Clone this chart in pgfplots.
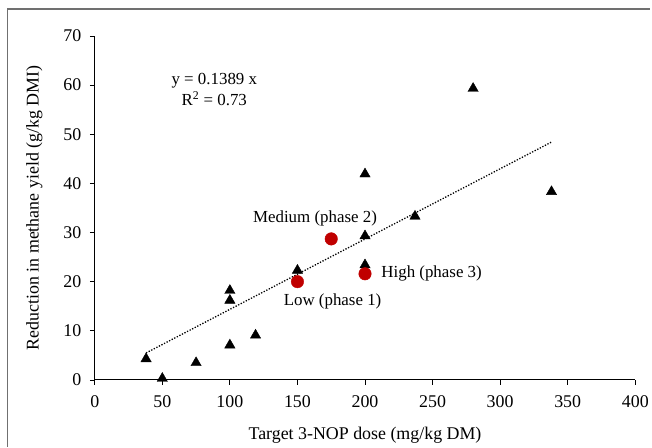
\documentclass[border=0pt]{standalone}
\usepackage{pgfplots}
\pgfplotsset{compat=1.18}
\usepackage{fontspec}
\setmainfont{Liberation Serif}
\definecolor{ptred}{HTML}{C00000}
\definecolor{framegray}{HTML}{707070}
\begin{document}
\begin{tikzpicture}[x=1bp,y=1bp]
\begin{axis}[
  at={(0,0)}, anchor=south west,
  scale only axis, width=542bp, height=345bp,
  xmin=0, xmax=400, ymin=0, ymax=70,
  axis lines=left, axis line style={-, line width=1pt},
  xtick={0,50,...,400}, ytick={0,10,...,70},
  tick align=outside, major tick length=5bp,
  tick style={line width=0.8pt, black},
  /pgf/number format/assume math mode=true,
  ticklabel style={font=\fontsize{18}{21}\selectfont},
  xticklabel style={yshift=-7bp},
  yticklabel style={xshift=-5bp},
  xlabel={Target 3-NOP dose (mg/kg DM)},
  ylabel={Reduction in methane yield (g/kg DMI)},
  label style={font=\fontsize{18}{21}\selectfont},
  xlabel style={yshift=-13bp},
  ylabel style={yshift=14bp},
  clip=false,
]
\addplot[only marks, mark=triangle*, mark size=6pt, black] coordinates {
  (38,4.3) (50,0.3) (75,3.5) (100,7.1) (100,16.2) (100,18.2) (119,9.1)
  (150,22.3) (200,41.9) (200,29.3) (200,23.4) (237,33.3) (280,59.3) (338,38.3)
};
\addplot[only marks, mark=*, mark size=6.3pt, ptred] coordinates {
  (150,20) (175,28.7) (200,21.6)
};
\addplot[line width=1.3pt, black, dash pattern=on 1.3pt off 1.6pt] coordinates {
  (38,5.5) (338,48.4)
};
\node[font=\fontsize{17}{21}\selectfont, align=center] at (axis cs:88.5,59.1) {y = 0.1389 x\\R\textsuperscript{2} = 0.73};
\node[font=\fontsize{17}{20}\selectfont] at (axis cs:163,32.9) {Medium (phase 2)};
\node[font=\fontsize{17}{20}\selectfont, anchor=west, inner sep=0pt] at (axis cs:212,21.7) {High (phase 3)};
\node[font=\fontsize{17}{20}\selectfont] at (axis cs:176,16) {Low (phase 1)};
\end{axis}
\draw[framegray, line width=1.2pt] (-87.5bp,-67bp) -- (-87.5bp,372bp) -- (557bp,372bp);
\useasboundingbox (-95bp,-67bp) rectangle (557bp,381bp);
\end{tikzpicture}
\end{document}
